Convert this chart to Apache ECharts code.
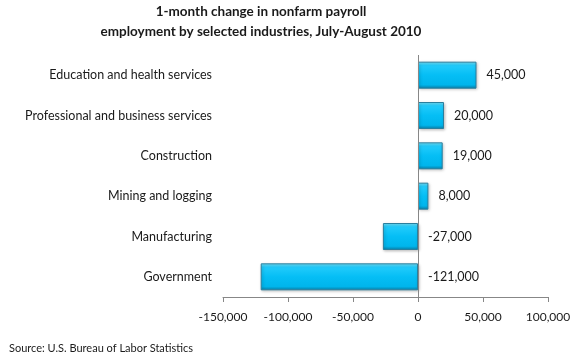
<!DOCTYPE html>
<html><head><meta charset="utf-8">
<script src="https://cdn.jsdelivr.net/npm/echarts@6/dist/echarts.min.js"></script>
<style>html,body{margin:0;padding:0;background:#fff}#c{width:580px;height:360px}</style>
</head><body><div id="c"></div>
<script>
const titleLines = ["1-month change in nonfarm payroll", "employment by selected industries, July-August 2010"];
const categories = ["Education and health services", "Professional and business services", "Construction", "Mining and logging", "Manufacturing", "Government"];
const values = [45000, 20000, 19000, 8000, -27000, -121000];
const xTicks = [-150000, -100000, -50000, 0, 50000, 100000];
const sourceText = "Source: U.S. Bureau of Labor Statistics";

const fmt = v => (v < 0 ? "-" : "") + Math.abs(v).toLocaleString("en-US");
const font = "Lato, 'Open Sans', sans-serif";

const chart = echarts.init(document.getElementById('c'), null, {renderer: 'canvas'});
chart.setOption({
  animation: false,
  title: [{
    text: titleLines.join("\n"), left: 261, textAlign: 'center', top: 2, padding: 0,
    textStyle: {fontFamily: font, fontWeight: 'bold', fontSize: 13.5, color: '#1a1a1a', lineHeight: 20}
  }, {
    text: sourceText, left: 9, top: 343, padding: 0,
    textStyle: {fontFamily: font, fontWeight: 'normal', fontSize: 11, color: '#1a1a1a'}
  }],
  grid: {left: 223, right: 32, top: 55, bottom: 63, containLabel: false},
  xAxis: {
    type: 'value', min: xTicks[0], max: xTicks[xTicks.length - 1], interval: 50000,
    axisLine: {show: true, lineStyle: {color: '#878787', width: 1}},
    axisTick: {show: true, length: 5, lineStyle: {color: '#878787'}},
    splitLine: {show: false},
    axisLabel: {formatter: fmt, fontFamily: font, fontSize: 12, color: '#1a1a1a', margin: 14}
  },
  yAxis: {
    type: 'category', data: categories, inverse: true,
    axisLine: {show: false, onZero: false},
    axisTick: {show: false},
    axisLabel: {fontFamily: font, fontSize: 12.5, color: '#1a1a1a', margin: 11}
  },
  series: [{
    type: 'bar', data: values, barWidth: 27,
    itemStyle: {
      color: new echarts.graphic.LinearGradient(0, 0, 0, 1, [
        {offset: 0, color: '#7BE8FF'},
        {offset: 0.14, color: '#22CBFB'},
        {offset: 0.5, color: '#05BEF5'},
        {offset: 0.86, color: '#00B5EC'},
        {offset: 1, color: '#0A7FA8'}
      ]),
      borderColor: '#2A7F9E', borderWidth: 1,
      shadowColor: 'rgba(0,0,0,0.25)', shadowBlur: 3, shadowOffsetX: 1, shadowOffsetY: 1
    },
    label: {show: true, position: 'right', distance: 10, formatter: p => fmt(p.value),
      fontFamily: font, fontSize: 12.5, color: '#1a1a1a'},
    markLine: {
      silent: true, symbol: 'none', label: {show: false},
      lineStyle: {color: '#878787', type: 'solid', width: 1},
      data: [{xAxis: 0}]
    }
  }]
});
</script></body></html>
